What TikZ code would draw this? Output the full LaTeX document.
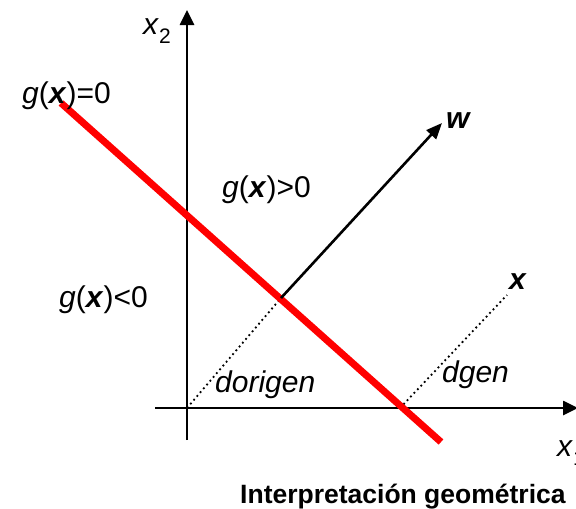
\documentclass[tikz,border=0pt]{standalone}
\usepackage{fontspec}
\setmainfont{Liberation Sans}
\usetikzlibrary{arrows.meta}
\begin{document}
\begin{tikzpicture}[x=1pt,y=-1pt,
  axis/.style={line width=2.6pt,-{Triangle[length=15pt,width=14pt]}},
  redline/.style={draw=red,line width=7pt},
  vec/.style={line width=2.6pt,-{Triangle[length=16pt,width=13pt]}},
  dots/.style={line width=1.8pt,dash pattern=on 1.8pt off 3.2pt},
  lbl/.style={anchor=base west,inner sep=0pt,font=\fontsize{30}{34}\selectfont},
  ttl/.style={anchor=base west,inner sep=0pt,font=\fontsize{26.5}{30}\selectfont\bfseries}]
\useasboundingbox (0,0) rectangle (576,509);
% coordinates
\coordinate (o) at (187,408);
\coordinate (xl) at (155,408);
\coordinate (xr) at (578,408);
\coordinate (yb) at (187,440);
\coordinate (yt) at (187,10);
\coordinate (r1) at (61,103);
\coordinate (r2) at (441,442);
\coordinate (p) at (281,298);
\coordinate (wt) at (442,123);
\coordinate (c) at (400,408);
\coordinate (xp) at (507,295);
% axes
\draw[axis] (xl) -- (xr);
\draw[axis] (yb) -- (yt);
% dotted lines
\draw[dots] (o) -- (p);
\draw[dots] (c) -- (xp);
% red line
\draw[redline] (r1) -- (r2);
% w vector
\draw[vec] (p) -- (wt);
% labels
\node[lbl] (lx2) at (143,34) {\textit{x}\raisebox{-0.3em}{\fontsize{21}{24}\selectfont 2}};
\node[lbl] (lg0) at (22,103) {\textit{g}(\textbf{\textit{x}})=0};
\node[lbl] (lgp) at (222,197) {\textit{g}(\textbf{\textit{x}})>0};
\node[lbl] (lgn) at (59,307) {\textit{g}(\textbf{\textit{x}})<0};
\node[lbl] (lw) at (446,128) {\textbf{\textit{w}}};
\node[lbl] (lx) at (509,289) {\textbf{\textit{x}}};
\node[lbl] (ldo) at (215,392) {\textit{dorigen}};
\node[lbl] (ldg) at (442,382) {\textit{dgen}};
\node[lbl] (lx1) at (557,456) {\textit{x}\raisebox{-0.3em}{\fontsize{21}{24}\selectfont 1}};
\node[ttl] (title) at (240,503) {Interpretación geométrica};
\end{tikzpicture}
\end{document}
